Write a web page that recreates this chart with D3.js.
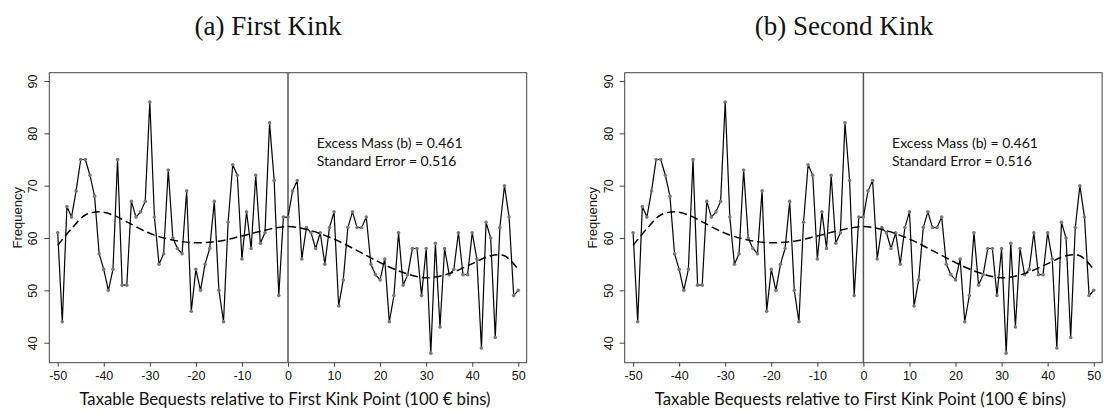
<!DOCTYPE html>
<html><head><meta charset="utf-8">
<script src="https://cdn.jsdelivr.net/npm/d3@7"></script>
<style>body{margin:0;background:#fff}svg{display:block}</style>
</head><body>
<svg id="c" width="1106" height="412"></svg>
<script>
// ---- data ----
const bins = d3.range(-50, 51);
const frequency = [61,44,66,64,69,75,75,72,68,57,54,50,54,75,51,51,67,64,65,67,86,64,55,57,73,60,58,57,69,46,54,50,55,58,67,50,44,63,74,72,56,65,58,72,59,61,82,71,49,64,
  64,69,71,56,62,61,58,61,55,62,65,47,52,62,65,62,62,64,55,53,52,56,44,49,61,51,53,58,58,49,58,38,59,43,58,53,54,61,53,53,61,56,39,63,60,41,62,70,64,49,50];
const cfBins =   [-50, -47, -44, -41, -38, -35, -30, -25, -20, -15, -10, -5, 0, 5, 10, 15, 20, 25, 30, 35, 40, 44, 47, 50];
const cfValues = [58.6,61.8,64.4,65.0,64.4,63.1,60.9,59.6,59.1,59.4,60.4,61.5,62.2,61.4,59.8,57.6,55.3,53.4,52.4,53.2,55.1,56.6,56.6,54.0];
const xTicks = [-50,-40,-30,-20,-10,0,10,20,30,40,50];
const yTicks = [40,50,60,70,80,90];
const panelTitles = ["(a) First Kink", "(b) Second Kink"];
const titleCenters = [268, 844];
const annotation = ["Excess Mass (b) = 0.461", "Standard Error = 0.516"];
const xLabel = "Taxable Bequests relative to First Kink Point (100 € bins)";
const yLabel = "Frequency";

const svg = d3.select("#c");
const offsets = [0, 575.4];

offsets.forEach((dx, pi) => {
  const g = svg.append("g").attr("transform", `translate(${dx},0)`);
  const x = d3.scaleLinear().domain([-50, 50]).range([57.7, 518.3]);
  const y = d3.scaleLinear().domain([40, 90]).range([342.7, 81]);
  const box = {l: 49.3, r: 526.7, t: 72.7, b: 362.7};

  // title
  svg.append("text").attr("x", titleCenters[pi]).attr("y", 34.5)
    .attr("text-anchor", "middle").attr("font-family", "Liberation Serif, serif")
    .attr("font-size", 27).attr("fill", "#111").text(panelTitles[pi]);

  // box
  g.append("rect").attr("x", box.l).attr("y", box.t).attr("width", box.r - box.l).attr("height", box.b - box.t)
    .attr("fill", "none").attr("stroke", "#444").attr("stroke-width", 1);

  // x axis
  const xa = g.append("g").attr("transform", `translate(0,${box.b})`)
    .call(d3.axisBottom(x).tickValues(xTicks).tickSize(4).tickPadding(4).tickFormat(d3.format("d")));
  xa.select(".domain").remove();
  xa.selectAll("line").attr("stroke", "#444");
  xa.selectAll("text").attr("font-family", "Liberation Sans, Arial, sans-serif").attr("font-size", 12.5).attr("fill", "#111")
    .text(d => d < 0 ? "-" + Math.abs(d) : d);

  // y axis
  const ya = g.append("g").attr("transform", `translate(${box.l},0)`)
    .call(d3.axisLeft(y).tickValues(yTicks).tickSize(5).tickFormat(d3.format("d")));
  ya.select(".domain").remove();
  ya.selectAll("line").attr("stroke", "#444");
  ya.selectAll("text").attr("font-family", "Liberation Sans, Arial, sans-serif").attr("font-size", 12.5).attr("fill", "#111")
    .attr("x", null).attr("dy", null).attr("text-anchor", "middle")
    .attr("transform", "translate(-12,0) rotate(-90)");

  // vertical line at 0
  g.append("line").attr("x1", x(0)).attr("x2", x(0)).attr("y1", box.t).attr("y2", box.b)
    .attr("stroke", "#555").attr("stroke-width", 1.5);

  // data line
  const line = d3.line().x((d, i) => x(bins[i])).y(d => y(d));
  g.append("path").datum(frequency).attr("d", line).attr("fill", "none")
    .attr("stroke", "#000").attr("stroke-width", 1.2).attr("stroke-linejoin", "round");
  g.selectAll("circle.pt").data(frequency).join("circle").attr("class", "pt")
    .attr("cx", (d, i) => x(bins[i])).attr("cy", d => y(d)).attr("r", 1.8).attr("fill", "#777");

  // counterfactual dashed
  const cline = d3.line().x((d, i) => x(cfBins[i])).y(d => y(d)).curve(d3.curveCatmullRom.alpha(0.5));
  g.append("path").datum(cfValues).attr("d", cline).attr("fill", "none")
    .attr("stroke", "#000").attr("stroke-width", 1.5).attr("stroke-dasharray", "8,4");

  // annotation
  annotation.forEach((t, i) => {
    g.append("text").attr("x", 316.7).attr("y", 148 + i * 18.3)
      .attr("font-family", "Lato, Open Sans, sans-serif").attr("font-size", 14).attr("fill", "#111").text(t);
  });

  // x label
  g.append("text").attr("x", 285).attr("y", 405).attr("text-anchor", "middle")
    .attr("font-family", "Lato, Open Sans, sans-serif").attr("font-size", 16.7).attr("fill", "#111").text(xLabel);

  // y label
  g.append("text").attr("transform", `translate(22,${(box.t + box.b) / 2}) rotate(-90)`)
    .attr("text-anchor", "middle").attr("font-family", "Liberation Sans, Arial, sans-serif")
    .attr("font-size", 13).attr("fill", "#111").text(yLabel);
});
</script>
</body></html>
